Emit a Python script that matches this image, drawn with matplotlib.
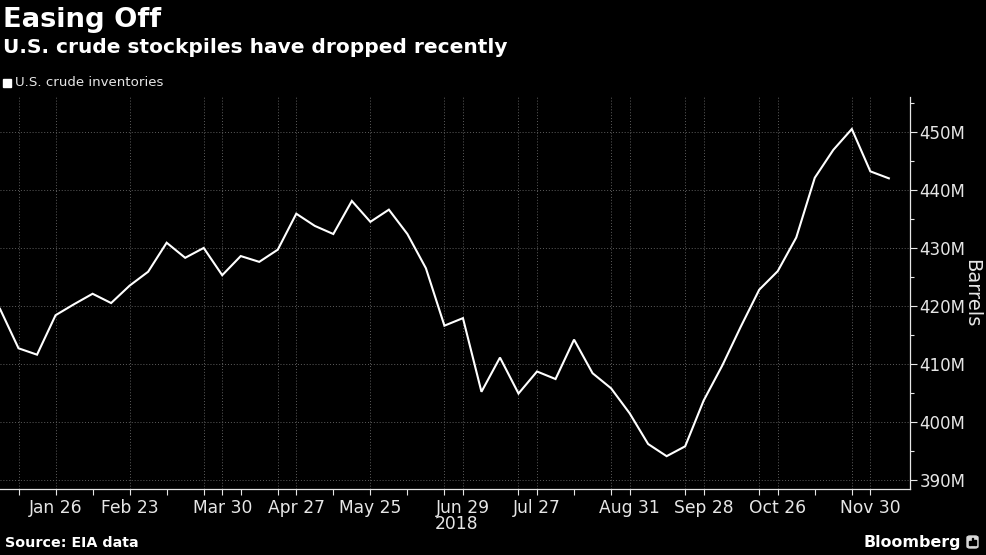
import numpy as np
import pandas as pd
import matplotlib
matplotlib.use('agg')
import matplotlib.pyplot as plt
from matplotlib.patches import FancyBboxPatch, Rectangle

# weekly EIA crude inventories, millions of barrels
week_dates = pd.date_range('2018-01-05', '2018-12-07', freq='7D')
inventories = [419.5, 412.7, 411.6, 418.4, 420.3, 422.1, 420.5, 423.5,
               425.9, 430.9, 428.3, 430.0, 425.3, 428.6, 427.6, 429.7,
               435.9, 433.8, 432.4, 438.1, 434.5, 436.6, 432.4, 426.5,
               416.6, 417.9, 405.2, 411.1, 404.9, 408.7, 407.4, 414.2,
               408.4, 405.8, 401.5, 396.2, 394.1, 395.8, 403.7, 409.7,
               416.4, 422.8, 426.0, 431.8, 442.1, 446.9, 450.5, 443.2,
               442.0]

label_dates = ['2018-01-26', '2018-02-23', '2018-03-30', '2018-04-27',
               '2018-05-25', '2018-06-29', '2018-07-27', '2018-08-31',
               '2018-09-28', '2018-10-26', '2018-11-30']
extra_grid_dates = ['2018-01-12', '2018-03-23', '2018-04-20', '2018-06-22',
                    '2018-07-20', '2018-08-24', '2018-09-21', '2018-10-19',
                    '2018-11-23']
extra_tick_dates = ['2018-02-09', '2018-03-09', '2018-04-06', '2018-05-11',
                    '2018-06-08', '2018-08-10', '2018-11-09']
y_ticks = [390, 400, 410, 420, 430, 440, 450]

fg = '#e6e6e6'
grid_col = '#5e5e5e'
grid_ls = (0, (1, 2))

fig = plt.figure(figsize=(9.87, 5.55), dpi=100, facecolor='black')
ax = fig.add_axes([0.0, 0.119, 0.922, 0.706], facecolor='black')

ax.plot(week_dates, inventories, color='white', lw=1.5, solid_joinstyle='miter')

ax.set_xlim(pd.Timestamp('2018-01-05'), pd.Timestamp('2018-12-15'))
ax.set_ylim(388.45, 456.0)

# x axis
major = pd.to_datetime(label_dates)
ax.set_xticks(major)
ax.set_xticklabels([d.strftime('%b %d').replace(' 0', ' ') for d in major])
minor = pd.to_datetime(extra_grid_dates + extra_tick_dates)
ax.set_xticks(minor, minor=True)
ax.tick_params(axis='x', which='both', direction='out', length=4, width=0.8,
               color=fg, labelcolor=fg, labelsize=12.3, pad=3)

# y axis on the right
ax.yaxis.tick_right()
ax.set_yticks(y_ticks)
ax.set_yticklabels(['{}M'.format(v) for v in y_ticks])
ax.set_yticks(np.arange(395, 456, 10), minor=True)
ax.tick_params(axis='y', which='major', direction='out', length=5, width=0.8,
               color=fg, labelcolor=fg, labelsize=12, pad=2)
ax.tick_params(axis='y', which='minor', direction='out', length=3, width=0.8,
               color=fg)
ax.yaxis.set_label_position('right')
ax.set_ylabel('Barrels', color=fg, fontsize=14, rotation=270, va='center')
ax.yaxis.set_label_coords(1.068, 0.5)

for s in ['top', 'left']:
    ax.spines[s].set_visible(False)
for s in ['bottom', 'right']:
    ax.spines[s].set_color(fg)
    ax.spines[s].set_linewidth(0.9)

# dotted grid
ax.grid(True, axis='both', which='major', color=grid_col, lw=0.7, ls=grid_ls)
for d in pd.to_datetime(extra_grid_dates):
    ax.axvline(d, color=grid_col, lw=0.7, ls=grid_ls, zorder=0.5)
ax.set_axisbelow(True)

# year label under Jun 29
ax.annotate('2018', xy=(pd.Timestamp('2018-06-29'), 0), xycoords=('data', 'axes fraction'),
            xytext=(-28, -26), textcoords='offset pixels', ha='left', va='top',
            color=fg, fontsize=12.3)

# titles
fig.text(0.003, 0.988, 'Easing Off', color='white', fontsize=19.7,
         fontweight='bold', ha='left', va='top')
fig.text(0.003, 0.932, 'U.S. crude stockpiles have dropped recently', color='white',
         fontsize=14.5, fontweight='bold', ha='left', va='top')

# legend
fig.patches.append(Rectangle((3 / 987, 1 - 87 / 555), 8 / 987, 8 / 555,
                             transform=fig.transFigure, color='white'))
fig.text(15 / 987, 1 - 83 / 555, 'U.S. crude inventories', color=fg, fontsize=9.6,
         ha='left', va='center')

# footer
fig.text(0.005, 1 - 543 / 555, 'Source: EIA data', color='white', fontsize=10.3,
         fontweight='bold', ha='left', va='center')
fig.text(961 / 987, 1 - 542 / 555, 'Bloomberg', color='white', fontsize=11.4,
         fontweight='bold', ha='right', va='center')
fig.patches.append(FancyBboxPatch((967 / 987, 1 - 548 / 555), 11 / 987, 12 / 555,
                                  boxstyle='round,pad=0,rounding_size=0.003',
                                  transform=fig.transFigure, color='#d8d8d8'))
for i, h in enumerate([4, 7, 5]):
    fig.patches.append(Rectangle(((969.5 + i * 2.5) / 987, 1 - 545 / 555), 1.3 / 987, h / 555,
                                 transform=fig.transFigure, color='black'))

fig.savefig('out.png', dpi=100, facecolor='black')
